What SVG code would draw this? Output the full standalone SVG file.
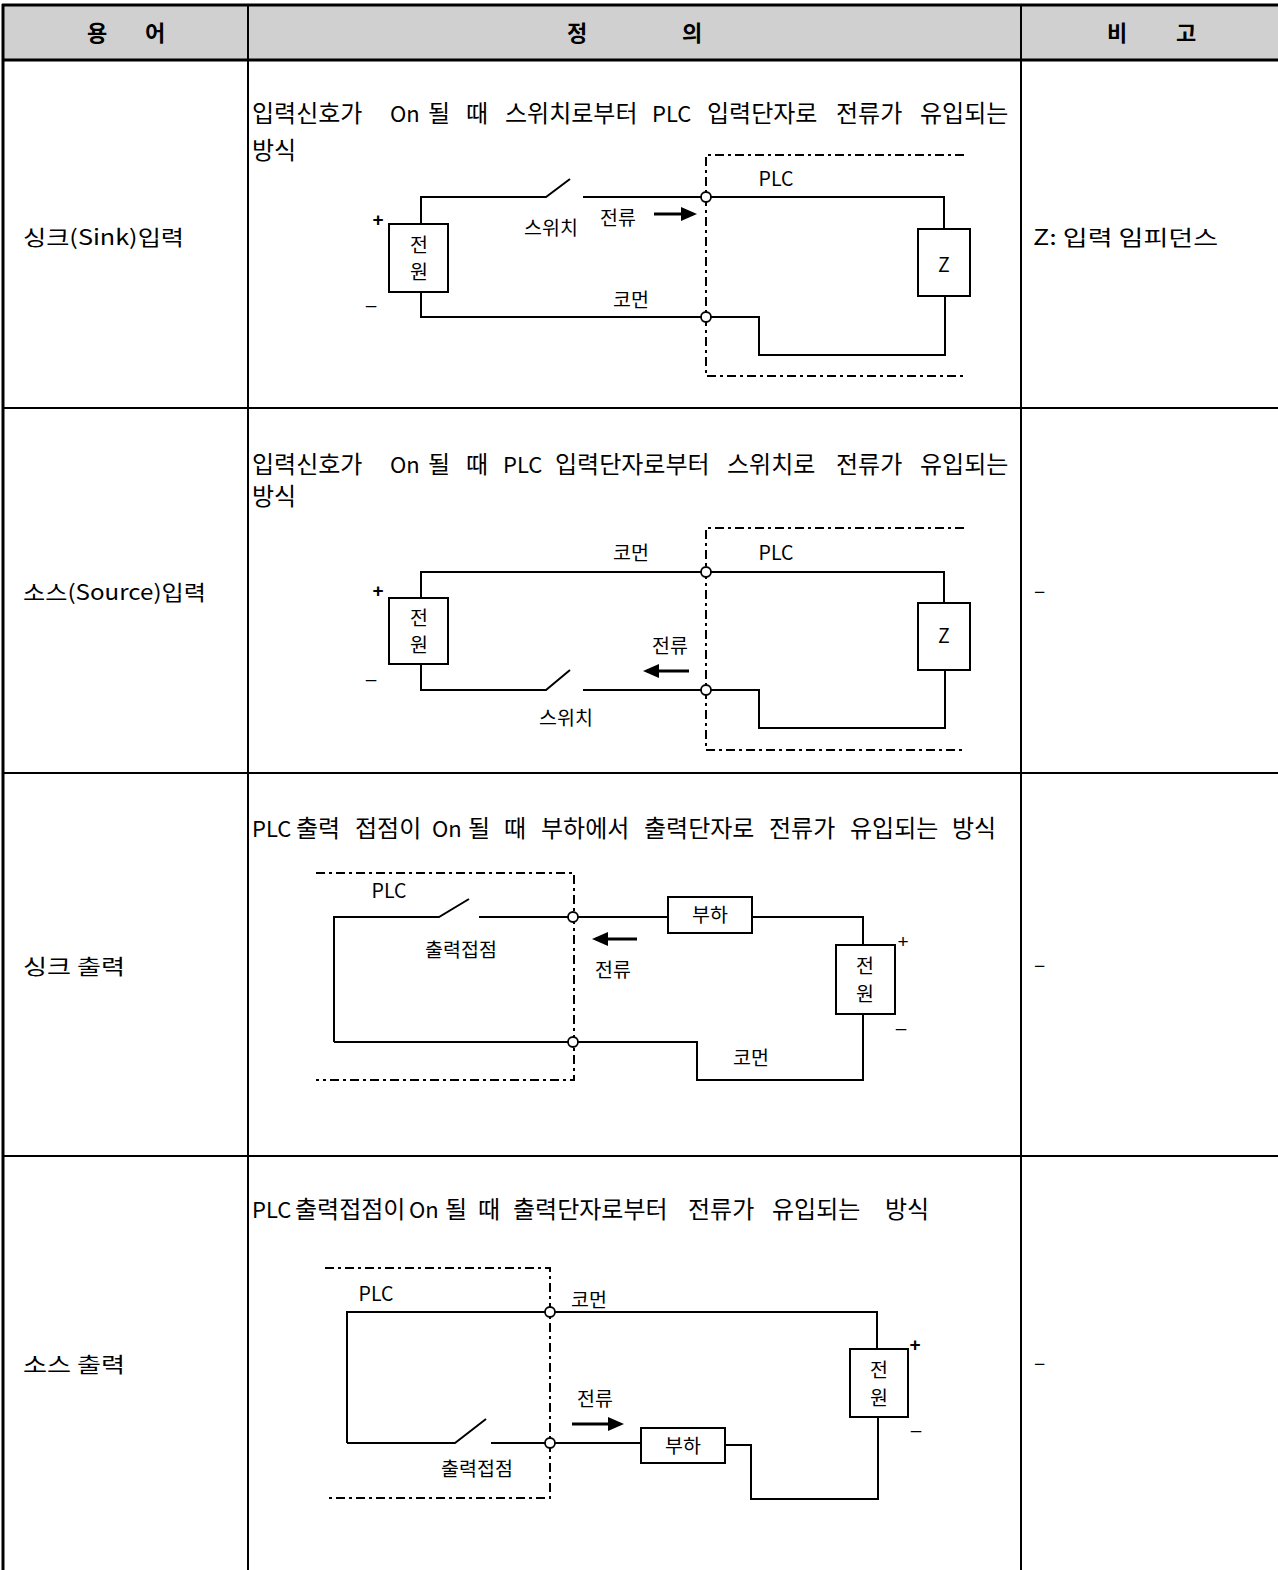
<svg xmlns="http://www.w3.org/2000/svg" width="1278" height="1570" viewBox="0 0 1278 1570">
<style>
text{font-family:"Noto Sans CJK KR","Noto Sans",sans-serif;fill:#000}
.hd{font-size:22px;font-weight:600;text-anchor:middle}
.term{font-size:21px}
.def{font-size:24px}
.lat{font-size:22px}
.lb{font-size:19.5px;text-anchor:middle}
.pm{font-size:19px;text-anchor:middle;font-family:"Liberation Sans",sans-serif}
.grid{stroke:#000;fill:none}
.w{stroke:#000;stroke-width:2;fill:none}
.box{stroke:#000;stroke-width:2;fill:#fff}
.dd{stroke:#000;stroke-width:2;fill:none;stroke-dasharray:9 4 3 4}
.term-pt{stroke:#000;stroke-width:1.8;fill:#fff}
.arr{stroke:#000;stroke-width:3;fill:none;marker-end:url(#ah)}
</style>
<defs>
<marker id="ah" viewBox="0 0 16 14" refX="12" refY="7" markerWidth="16" markerHeight="14" markerUnits="userSpaceOnUse" orient="auto">
<path d="M0,0 L16,7 L0,14 z" fill="#000"/>
</marker>
</defs>
<rect width="1278" height="1570" fill="#fff"/>

<g id="table">
<rect x="3" y="5" width="1275" height="55" fill="#d0d0d0"/>
<line class="grid" x1="2" y1="5" x2="1278" y2="5" stroke-width="3"/>
<line class="grid" x1="2" y1="60" x2="1278" y2="60" stroke-width="3"/>
<line class="grid" x1="3" y1="4" x2="3" y2="1570" stroke-width="3"/>
<line class="grid" x1="248" y1="5" x2="248" y2="1570" stroke-width="2"/>
<line class="grid" x1="1021" y1="5" x2="1021" y2="1570" stroke-width="2"/>
<line class="grid" x1="3" y1="408" x2="1278" y2="408" stroke-width="2"/>
<line class="grid" x1="3" y1="773" x2="1278" y2="773" stroke-width="2"/>
<line class="grid" x1="3" y1="1156" x2="1278" y2="1156" stroke-width="2"/>
</g>

<g id="header">
<text class="hd" x="97" y="41">용</text>
<text class="hd" x="155" y="41">어</text>
<text class="hd" x="577" y="41">정</text>
<text class="hd" x="692" y="41">의</text>
<text class="hd" x="1117" y="41">비</text>
<text class="hd" x="1186" y="41">고</text>
</g>

<g id="terms">
<text class="term" x="23" y="245" textLength="161" lengthAdjust="spacingAndGlyphs">싱크(Sink)입력</text>
<text class="term" x="23" y="600" textLength="183" lengthAdjust="spacingAndGlyphs">소스(Source)입력</text>
<text class="term" x="23" y="974" textLength="102" lengthAdjust="spacingAndGlyphs">싱크 출력</text>
<text class="term" x="23" y="1372" textLength="102" lengthAdjust="spacingAndGlyphs">소스 출력</text>
</g>

<g id="remarks">
<text class="term" x="1033" y="245" textLength="185" lengthAdjust="spacingAndGlyphs">Z: 입력 임피던스</text>
<text class="term" x="1034" y="598">–</text>
<text class="term" x="1034" y="972">–</text>
<text class="term" x="1034" y="1370">–</text>
</g>

<g id="definitions">
<text class="def" y="122"><tspan x="252">입력신호가 </tspan><tspan class="lat" x="390">On </tspan><tspan x="428">될 </tspan><tspan x="466">때 </tspan><tspan x="505">스위치로부터 </tspan><tspan class="lat" x="652">PLC </tspan><tspan x="707">입력단자로 </tspan><tspan x="836">전류가 </tspan><tspan x="920">유입되는</tspan></text>
<text class="def" x="252" y="159">방식</text>
<text class="def" y="473"><tspan x="252">입력신호가 </tspan><tspan class="lat" x="390">On </tspan><tspan x="428">될 </tspan><tspan x="466">때 </tspan><tspan class="lat" x="503">PLC </tspan><tspan x="555">입력단자로부터 </tspan><tspan x="727">스위치로 </tspan><tspan x="836">전류가 </tspan><tspan x="920">유입되는</tspan></text>
<text class="def" x="252" y="505">방식</text>
<text class="def" y="837"><tspan class="lat" x="252">PLC </tspan><tspan x="296">출력 </tspan><tspan x="355">접점이 </tspan><tspan class="lat" x="432">On </tspan><tspan x="468">될 </tspan><tspan x="504">때 </tspan><tspan x="541">부하에서 </tspan><tspan x="644">출력단자로 </tspan><tspan x="769">전류가 </tspan><tspan x="850">유입되는 </tspan><tspan x="952">방식</tspan></text>
<text class="def" y="1218"><tspan class="lat" x="252">PLC </tspan><tspan x="295">출력접점이 </tspan><tspan class="lat" x="409">On </tspan><tspan x="445">될 </tspan><tspan x="478">때 </tspan><tspan x="513">출력단자로부터 </tspan><tspan x="688">전류가 </tspan><tspan x="772">유입되는 </tspan><tspan x="885">방식</tspan></text>
</g>

<g id="diagram1">
<path class="dd" d="M964,155 H706 V376 H964"/>
<g id="d1-wires">
<path class="w" d="M421,224 V197 H546 L570,179"/>
<path class="w" d="M583,197 H944 V229"/>
<path class="w" d="M421,292 V317 H759 V355 H945 V296"/>
<line class="arr" x1="654" y1="214" x2="693" y2="214"/>
</g>
<g id="d1-source"><rect class="box" x="389" y="224" width="59" height="68"/><text class="lb" x="419" y="252">전</text><text class="lb" x="419" y="279">원</text></g>
<g id="d1-z"><rect class="box" x="918" y="229" width="52" height="67"/><text class="lb" x="944" y="272">Z</text></g>
<circle class="term-pt" cx="706" cy="197" r="5"/>
<circle class="term-pt" cx="706" cy="317" r="5"/>
<text class="pm" x="378" y="226" font-weight="bold">+</text>
<text class="pm" x="371" y="311">–</text>
<text class="lb" x="551" y="235">스위치</text>
<text class="lb" x="618" y="225">전류</text>
<text class="lb" x="776" y="186">PLC</text>
<text class="lb" x="631" y="307">코먼</text>
</g>

<g id="diagram2">
<path class="dd" d="M964,528 H706 V750 H964"/>
<g id="d2-wires">
<path class="w" d="M421,598 V572 H944 V603"/>
<path class="w" d="M421,664 V690 H546 L570,670"/>
<path class="w" d="M583,690 H759 V728 H945 V670"/>
<line class="arr" x1="689" y1="671" x2="647" y2="671"/>
</g>
<g id="d2-source"><rect class="box" x="389" y="598" width="59" height="66"/><text class="lb" x="419" y="625">전</text><text class="lb" x="419" y="652">원</text></g>
<g id="d2-z"><rect class="box" x="918" y="603" width="52" height="67"/><text class="lb" x="944" y="643">Z</text></g>
<circle class="term-pt" cx="706" cy="572" r="5"/>
<circle class="term-pt" cx="706" cy="690" r="5"/>
<text class="pm" x="378" y="597" font-weight="bold">+</text>
<text class="pm" x="371" y="685">–</text>
<text class="lb" x="631" y="560">코먼</text>
<text class="lb" x="776" y="560">PLC</text>
<text class="lb" x="670" y="653">전류</text>
<text class="lb" x="566" y="725">스위치</text>
</g>

<g id="diagram3">
<path class="dd" d="M316,873 H574 V1080 H316"/>
<g id="d3-wires">
<path class="w" d="M334,1042 V917 H439 L469,899"/>
<path class="w" d="M479,917 H668"/>
<path class="w" d="M752,917 H863 V945"/>
<path class="w" d="M863,1014 V1080 H697 V1042 H334"/>
<line class="arr" x1="637" y1="939" x2="596" y2="939"/>
</g>
<g id="d3-load"><rect class="box" x="668" y="897" width="84" height="36"/><text class="lb" x="710" y="922">부하</text></g>
<g id="d3-source"><rect class="box" x="836" y="945" width="59" height="69"/><text class="lb" x="865" y="973">전</text><text class="lb" x="865" y="1001">원</text></g>
<circle class="term-pt" cx="573" cy="917" r="5"/>
<circle class="term-pt" cx="573" cy="1042" r="5"/>
<text class="pm" x="903" y="948">+</text>
<text class="pm" x="901" y="1034">–</text>
<text class="lb" x="389" y="898">PLC</text>
<text class="lb" x="461" y="957">출력접점</text>
<text class="lb" x="613" y="977">전류</text>
<text class="lb" x="751" y="1065">코먼</text>
</g>

<g id="diagram4">
<path class="dd" d="M325,1268 H550 V1498 H325"/>
<g id="d4-wires">
<path class="w" d="M347,1443 V1312 H877 V1349"/>
<path class="w" d="M347,1443 H455 L486,1419"/>
<path class="w" d="M491,1443 H641"/>
<path class="w" d="M725,1445 H751 V1499 H878 V1417"/>
<line class="arr" x1="572" y1="1424" x2="620" y2="1424"/>
</g>
<g id="d4-load"><rect class="box" x="641" y="1428" width="84" height="35"/><text class="lb" x="683" y="1453">부하</text></g>
<g id="d4-source"><rect class="box" x="850" y="1349" width="58" height="68"/><text class="lb" x="879" y="1377">전</text><text class="lb" x="879" y="1405">원</text></g>
<circle class="term-pt" cx="550" cy="1312" r="5"/>
<circle class="term-pt" cx="550" cy="1443" r="5"/>
<text class="pm" x="915" y="1351" font-weight="bold">+</text>
<text class="pm" x="916" y="1436">–</text>
<text class="lb" x="376" y="1301">PLC</text>
<text class="lb" x="589" y="1307">코먼</text>
<text class="lb" x="595" y="1406">전류</text>
<text class="lb" x="477" y="1476">출력접점</text>
</g>
</svg>
